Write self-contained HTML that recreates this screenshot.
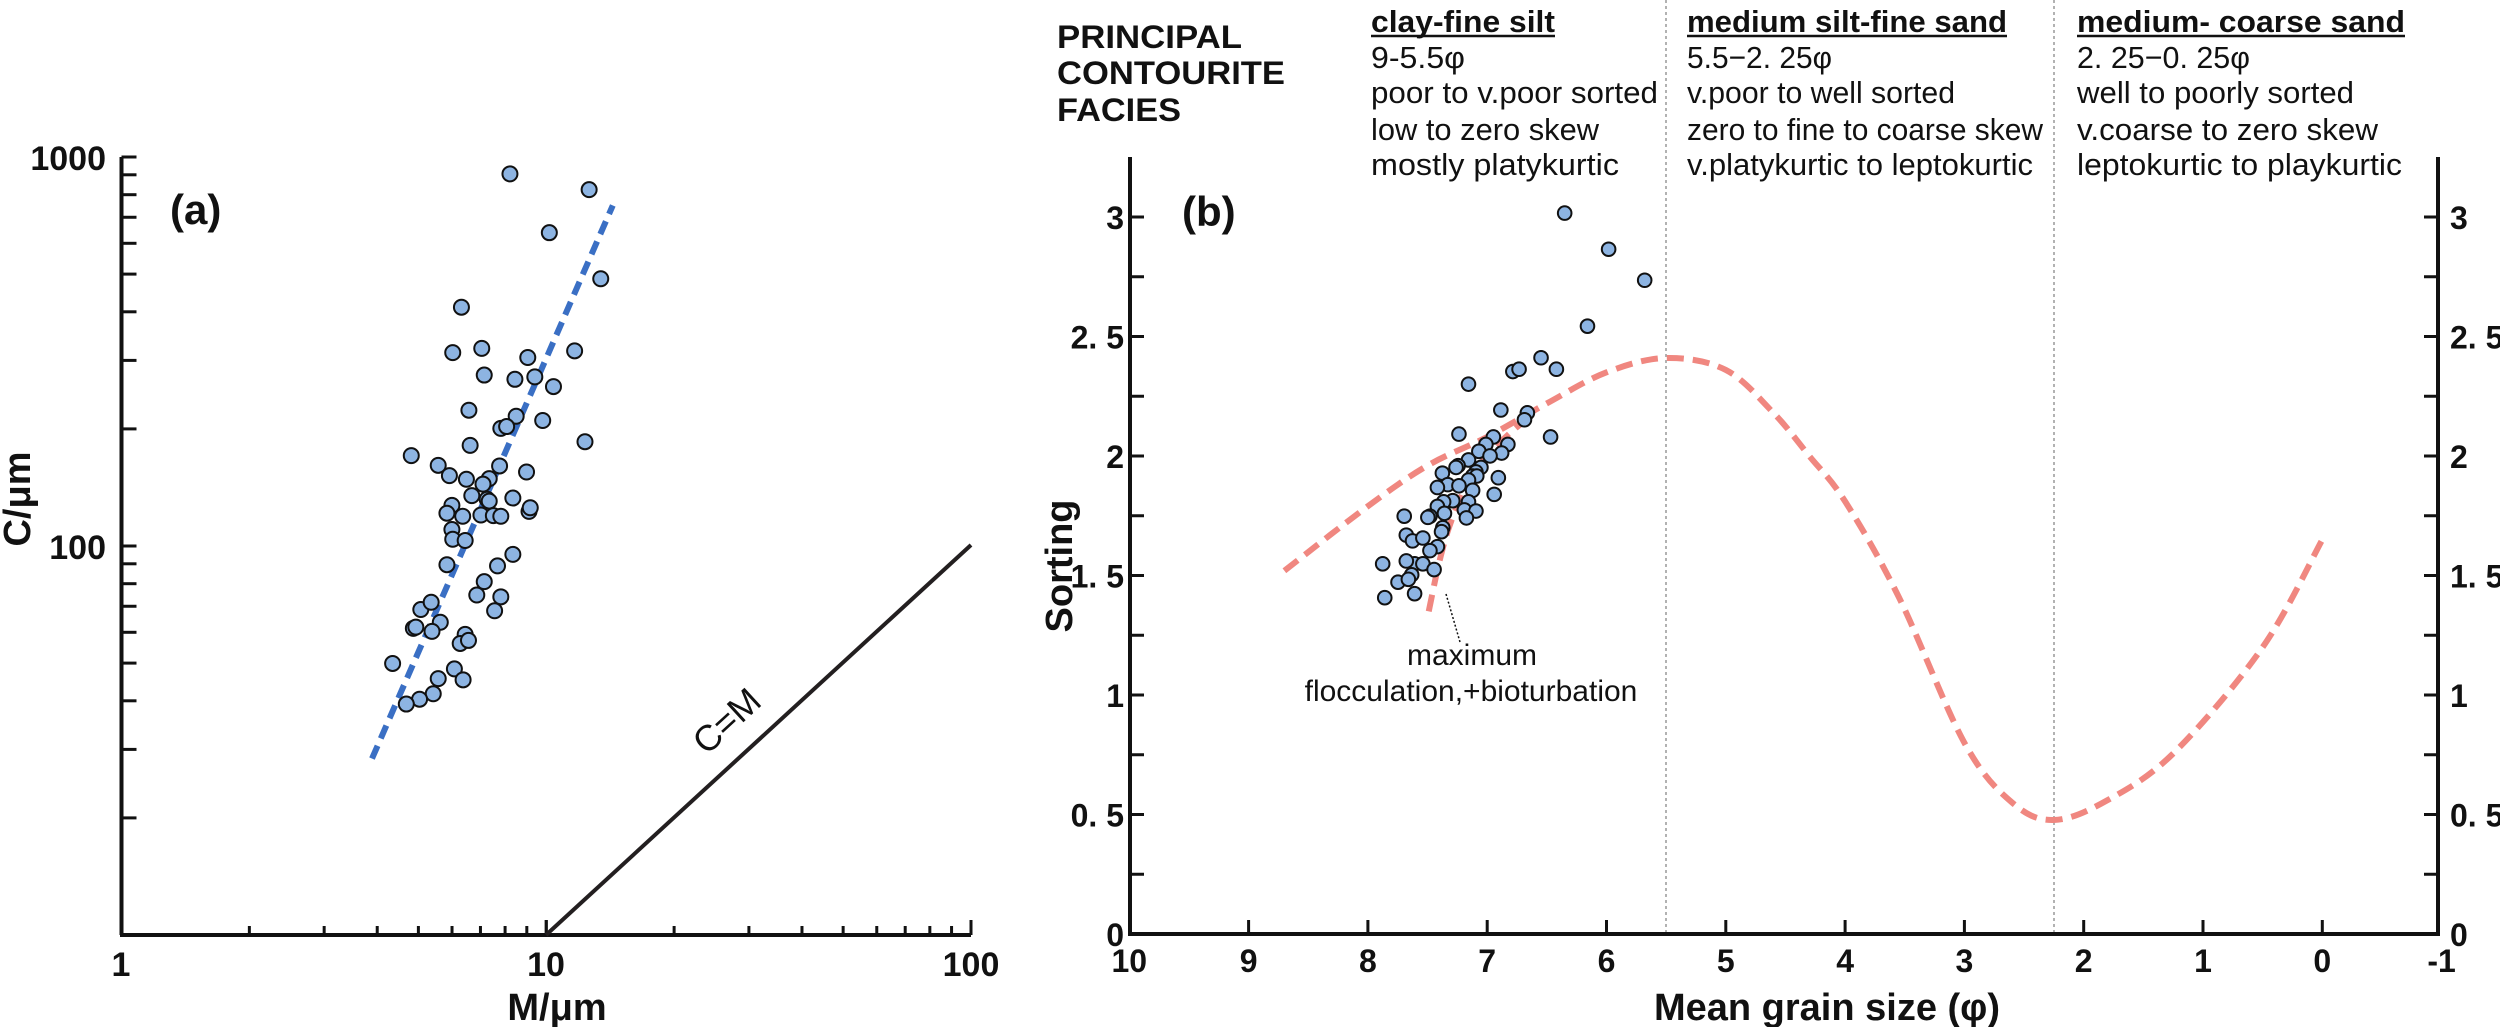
<!DOCTYPE html>
<html><head><meta charset="utf-8"><style>
html,body{margin:0;padding:0;background:#fff;}
svg{display:block;}
text{font-family:"Liberation Sans",Arial,sans-serif;fill:#111;}
</style></head><body>
<svg id="s" width="2500" height="1027" viewBox="0 0 2500 1027" xmlns="http://www.w3.org/2000/svg">
<rect width="2500" height="1027" fill="#fff"/>
<!-- Panel a axes -->
<g stroke="#111" stroke-width="4" fill="none">
<line x1="121.5" y1="157" x2="121.5" y2="935"/>
<line x1="120" y1="935" x2="971" y2="935"/>
</g>
<g id="atick" stroke="#111" stroke-width="3"></g>
<g font-weight="bold" font-size="34" text-anchor="end">
<text x="106" y="170">1000</text>
<text x="106" y="559">100</text>
</g>
<g font-weight="bold" font-size="34" text-anchor="middle">
<text x="121" y="976">1</text>
<text x="546" y="976">10</text>
<text x="971" y="976">100</text>
<text x="557" y="1020" font-size="38">M/μm</text>
</g>
<text transform="translate(30,499) rotate(-90)" font-weight="bold" font-size="38" text-anchor="middle">C/μm</text>
<text x="170" y="224" font-weight="bold" font-size="42" fill="#231f20">(a)</text>
<line x1="546" y1="935" x2="971" y2="545" stroke="#231f20" stroke-width="4"/>
<text transform="translate(735,730) rotate(-42.5)" font-size="36" text-anchor="middle">C=M</text>
<line x1="372" y1="758.6" x2="612.8" y2="205.4" stroke="#3a6fc4" stroke-width="6" stroke-dasharray="14 8"/>
<g id="apts" fill="#8db4e2" stroke="#111" stroke-width="2"></g>

<!-- Panel b -->
<g stroke="#999" stroke-width="1.5" stroke-dasharray="3 3">
<line x1="1666" y1="0" x2="1666" y2="934"/>
<line x1="2054" y1="0" x2="2054" y2="934"/>
</g>
<g stroke="#111" stroke-width="4" fill="none">
<line x1="1130" y1="157" x2="1130" y2="936"/>
<line x1="2438" y1="157" x2="2438" y2="936"/>
<line x1="1128" y1="934" x2="2440" y2="934"/>
</g>
<g id="btick" stroke="#111" stroke-width="3"></g>
<g id="blab" font-weight="bold" font-size="32"></g>
<text x="1827" y="1020" font-weight="bold" font-size="38" text-anchor="middle">Mean grain size (φ)</text>
<text transform="translate(1072,566) rotate(-90)" font-weight="bold" font-size="38" text-anchor="middle">Sorting</text>
<text x="1182" y="226" font-weight="bold" font-size="42" fill="#231f20">(b)</text>
<path id="curve1" fill="none" stroke="#f08780" stroke-width="6" stroke-dasharray="17 9"/>
<path id="curve2" fill="none" stroke="#f08780" stroke-width="6" stroke-dasharray="17 9"/>
<line x1="1446" y1="594" x2="1460" y2="642" stroke="#111" stroke-width="1.5" stroke-dasharray="2 2"/>
<g font-size="30" text-anchor="middle">
<text x="1472" y="665">maximum</text>
<text x="1471" y="701">flocculation,+bioturbation</text>
</g>
<g id="bpts" fill="#8db4e2" stroke="#111" stroke-width="2"></g>

<!-- Header -->
<g font-weight="bold" font-size="32">
<text x="1057" y="48" textLength="185" lengthAdjust="spacingAndGlyphs">PRINCIPAL</text>
<text x="1057" y="84" textLength="228" lengthAdjust="spacingAndGlyphs">CONTOURITE</text>
<text x="1057" y="121" textLength="124" lengthAdjust="spacingAndGlyphs">FACIES</text>
</g>
<g font-size="31">
<text x="1371" y="32" font-weight="bold" textLength="184" lengthAdjust="spacingAndGlyphs">clay-fine silt</text>
<line x1="1371" y1="36" x2="1555" y2="36" stroke="#111" stroke-width="2.5"/>
<text x="1371" y="68" textLength="94" lengthAdjust="spacingAndGlyphs">9-5.5φ</text>
<text x="1371" y="103" textLength="287" lengthAdjust="spacingAndGlyphs">poor to v.poor sorted</text>
<text x="1371" y="140" textLength="228" lengthAdjust="spacingAndGlyphs">low to zero skew</text>
<text x="1371" y="175" textLength="248" lengthAdjust="spacingAndGlyphs">mostly platykurtic</text>

<text x="1687" y="32" font-weight="bold" textLength="320" lengthAdjust="spacingAndGlyphs">medium silt-fine sand</text>
<line x1="1687" y1="36" x2="2007" y2="36" stroke="#111" stroke-width="2.5"/>
<text x="1687" y="68" textLength="145" lengthAdjust="spacingAndGlyphs">5.5−2. 25φ</text>
<text x="1687" y="103" textLength="268" lengthAdjust="spacingAndGlyphs">v.poor to well sorted</text>
<text x="1687" y="140" textLength="356" lengthAdjust="spacingAndGlyphs">zero to fine to coarse skew</text>
<text x="1687" y="175" textLength="346" lengthAdjust="spacingAndGlyphs">v.platykurtic to leptokurtic</text>

<text x="2077" y="32" font-weight="bold" textLength="328" lengthAdjust="spacingAndGlyphs">medium- coarse sand</text>
<line x1="2077" y1="36" x2="2405" y2="36" stroke="#111" stroke-width="2.5"/>
<text x="2077" y="68" textLength="173" lengthAdjust="spacingAndGlyphs">2. 25−0. 25φ</text>
<text x="2077" y="103" textLength="277" lengthAdjust="spacingAndGlyphs">well to poorly sorted</text>
<text x="2077" y="140" textLength="301" lengthAdjust="spacingAndGlyphs">v.coarse to zero skew</text>
<text x="2077" y="175" textLength="325" lengthAdjust="spacingAndGlyphs">leptokurtic to playkurtic</text>
</g>
</svg>
<script>
var NS="http://www.w3.org/2000/svg";
function el(p,t,a){var e=document.createElementNS(NS,t);for(var k in a)e.setAttribute(k,a[k]);p.appendChild(e);return e;}
var at=document.getElementById('atick');
var X0=121.5,DX=424.75,Y10=935,DY=389;
for(var d=0;d<2;d++)for(var m=1;m<=10;m++){var x=X0+DX*(d+Math.log10(m));var L=(m==1||m==10)?15:9;el(at,'line',{x1:x,y1:935,x2:x,y2:935-L});}
for(var d=0;d<2;d++)for(var m=1;m<=10;m++){var y=Y10-DY*(d+Math.log10(m));if(y<150)continue;el(at,'line',{x1:121.5,y1:y,x2:136.5,y2:y});}
var ap=[[1230,155],[1421,181],[1325,252],[1449,328],[1113,375],[1092,450],[1162,443],[1273,458],[1386,447],[1168,487],[1242,494],[1290,490],[1335,506],[1131,545],[1245,555],[1309,562],[1208,575],[1222,572],[1134,603],[1411,597],[992,620],[1057,636],[1084,653],[1125,659],[1205,637],[1270,647],[1180,658],[1165,667],[1138,686],[1237,690],[1090,702],[1175,692],[1180,695],[1078,715],[1116,720],[1160,718],[1190,719],[1208,720],[1276,712],[1279,706],[1090,742],[1092,758],[1122,760],[1237,783],[1078,800],[1200,802],[1168,828],[1150,850],[1208,853],[1015,874],[1040,862],[1193,876],[1062,895],[997,905],[1003,903],[1042,910],[1122,915],[1110,930],[1130,925],[947,963],[1096,972],[1057,988],[1117,990],[1045,1013],[1012,1022],[980,1030]];
var ag=document.getElementById('apts');
ap.forEach(function(p){el(ag,'circle',{cx:p[0]/2.412,cy:p[1]/1.6505+80,r:7.5});});
function bx(f){return 1129.3+(10-f)*119.3;}
function by(s){return 934-s*239;}
var bt=document.getElementById('btick'),bl=document.getElementById('blab');
for(var i=0;i<=12;i++){var s=i*0.25,y=by(s);el(bt,'line',{x1:1130,y1:y,x2:1144,y2:y});el(bt,'line',{x1:2438,y1:y,x2:2424,y2:y});
 if(i%2==0){var lab=(s==Math.floor(s))?String(s):(Math.floor(s)+". 5");
 var t=el(bl,'text',{x:1124,y:y+12,'text-anchor':'end'});t.textContent=lab;
 var t2=el(bl,'text',{x:2450,y:y+12});t2.textContent=lab;}}
for(var f=10;f>=-1;f--){var x=bx(f);if(f<10&&f>-1)el(bt,'line',{x1:x,y1:934,x2:x,y2:920});var t=el(bl,'text',{x:x,y:972,'text-anchor':'middle'});t.textContent=String(f);}
function cr(pts){var P=pts.map(function(p){return[bx(p[0]),by(p[1])];});var d="M"+P[0][0]+","+P[0][1];
for(var i=0;i<P.length-1;i++){var p0=P[i-1]||P[i],p1=P[i],p2=P[i+1],p3=P[i+2]||P[i+1];
d+=" C"+(p1[0]+(p2[0]-p0[0])/6)+","+(p1[1]+(p2[1]-p0[1])/6)+" "+(p2[0]-(p3[0]-p1[0])/6)+","+(p2[1]-(p3[1]-p1[1])/6)+" "+p2[0]+","+p2[1];}return d;}
document.getElementById('curve1').setAttribute('d',cr([[8.7,1.52],[8,1.79],[7.5,1.96],[7,2.08],[6.5,2.22],[6,2.35],[5.5,2.41],[5,2.36],[4.6,2.18],[4.3,2.0],[4,1.81],[3.55,1.41],[3,0.8],[2.6,0.55],[2.25,0.477],[1.8,0.56],[1.24,0.76],[0.5,1.2],[0,1.65]]));
document.getElementById('curve2').setAttribute('d',cr([[7.49,1.35],[7.4,1.56],[7.3,1.73],[7.15,1.9],[7,2.0],[6.8,2.1],[6.6,2.18]]));
var bp=[[1362,197],[1468,260],[1555,314],[1417,394],[1305,449],[1342,469],[1237,473],[1252,469],[1130,495],[1208,540],[1272,545],[1265,557],[1328,587],[1107,582],[1190,587],[1172,600],[1225,600],[1155,612],[1210,615],[1182,620],[1130,627],[1105,637],[1100,640],[1160,640],[1148,648],[1140,655],[1067,650],[1150,655],[1202,658],[1130,662],[1080,670],[1107,672],[1055,675],[1140,680],[1192,687],[1130,700],[1092,698],[1070,700],[1055,708],[1120,714],[1148,716],[1125,728],[1072,720],[1037,725],[1032,727],[975,725],[1068,745],[1065,752],[980,758],[995,768],[1020,763],[1055,778],[1037,785],[1000,808],[1020,808],[980,803],[923,808],[1047,818],[993,827],[960,840],[985,835],[1000,860],[928,867]];
var bg=document.getElementById('bpts');
bp.forEach(function(p){el(bg,'circle',{cx:1000+p[0]/2.412,cy:100+p[1]/1.742,r:6.8});});
</script>
</body></html>
